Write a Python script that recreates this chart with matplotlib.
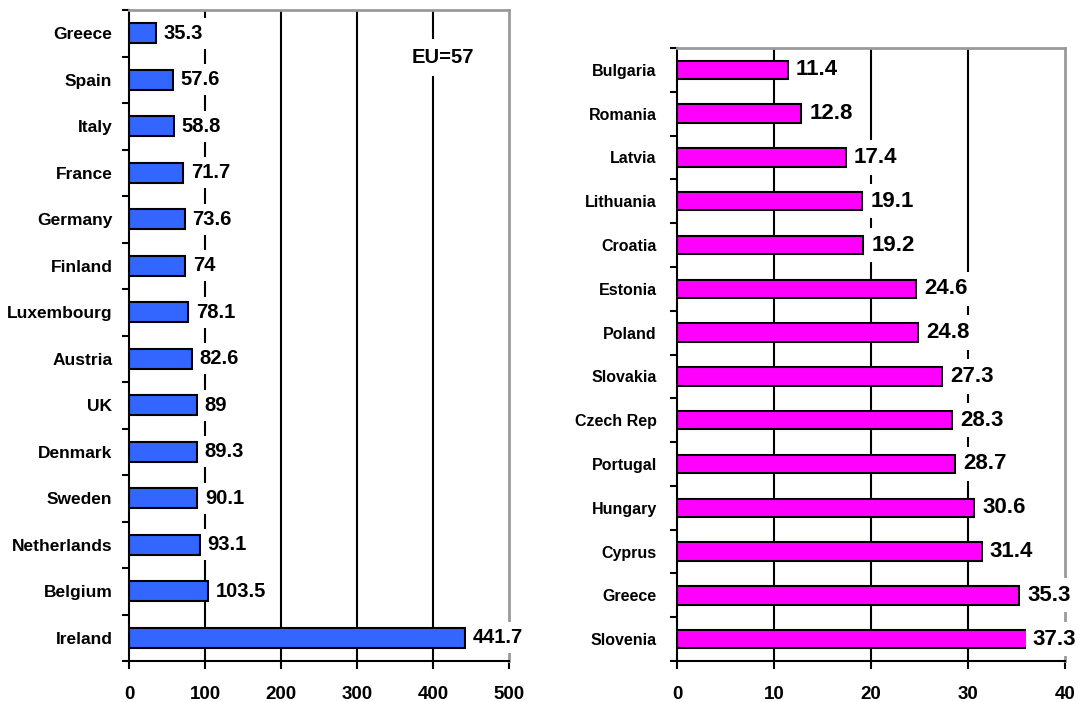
import matplotlib.pyplot as plt
import numpy as np

plt.rcParams['font.family'] = ['Liberation Sans', 'DejaVu Sans']
plt.rcParams['font.weight'] = 'bold'

old_members = ['Greece', 'Spain', 'Italy', 'France', 'Germany', 'Finland',
               'Luxembourg', 'Austria', 'UK', 'Denmark', 'Sweden',
               'Netherlands', 'Belgium', 'Ireland']
old_values = [35.3, 57.6, 58.8, 71.7, 73.6, 74, 78.1, 82.6, 89, 89.3, 90.1,
              93.1, 103.5, 441.7]

new_members = ['Bulgaria', 'Romania', 'Latvia', 'Lithuania', 'Croatia',
               'Estonia', 'Poland', 'Slovakia', 'Czech Rep', 'Portugal',
               'Hungary', 'Cyprus', 'Greece', 'Slovenia']
new_values = [11.4, 12.8, 17.4, 19.1, 19.2, 24.6, 24.8, 27.3, 28.3, 28.7,
              30.6, 31.4, 35.3, 37.3]

eu_label = 'EU=57'


def draw_panel(ax, names, values, color, xmax, step, cat_size, cat_pad,
               val_size, val_off):
    y = np.arange(len(names))
    ax.barh(y, values, height=0.42, color=color, edgecolor='black',
            linewidth=1.5, zorder=2)
    ax.set_xlim(0, xmax)
    ax.set_ylim(len(names) - 0.5, -0.5)
    ax.set_xticks(np.arange(0, xmax + 1, step))
    ax.set_yticks(y)
    ax.set_yticklabels(names, fontsize=cat_size, fontweight='bold')
    ax.set_yticks(np.arange(-0.5, len(names), 1), minor=True)
    ax.tick_params(axis='y', which='major', length=0, pad=cat_pad)
    ax.tick_params(axis='y', which='minor', length=5, width=1.5,
                   direction='out')
    ax.tick_params(axis='x', length=6, width=1.5, direction='out',
                   labelsize=13.5, pad=12)
    for lbl in ax.get_xticklabels():
        lbl.set_fontweight('bold')
    for gx in np.arange(step, xmax, step):
        ax.axvline(gx, color='black', linewidth=1.5, zorder=1)
    for side in ('left', 'bottom'):
        ax.spines[side].set_color('black')
        ax.spines[side].set_linewidth(1.5)
    for side in ('top', 'right'):
        ax.spines[side].set_color('#9a9a9a')
        ax.spines[side].set_linewidth(2)
    labels = []
    for yi, v in zip(y, values):
        t = ax.annotate(f'{v:g}', (v, yi), xytext=(val_off, 0),
                        textcoords='offset points', ha='left', va='center',
                        fontsize=val_size, fontweight='bold', zorder=4,
                        annotation_clip=False,
                        bbox=dict(boxstyle='square,pad=0.3', fc='white',
                                  ec='none'))
        labels.append(t)
    return labels


fig = plt.figure(figsize=(10.8, 7.02), dpi=100)
ax1 = fig.add_axes([129 / 1080, 1 - 661 / 702, 380 / 1080, 651 / 702])
ax2 = fig.add_axes([677 / 1080, 1 - 661 / 702, 388 / 1080, 613 / 702])

draw_panel(ax1, old_members, old_values, '#3366ff', 500, 100, 12.5, 12,
           14.5, 5.5)
right_labels = draw_panel(ax2, new_members, new_values, '#ff00ff', 40, 10,
                          11.5, 14.5, 16, 6)

ax1.text(413, 0.52, eu_label, ha='center', va='center', fontsize=14.5,
         fontweight='bold', zorder=4,
         bbox=dict(boxstyle='square,pad=0.45', fc='white', ec='none'))

# pull any value label back inside the figure if it runs past the edge
fig.canvas.draw()
renderer = fig.canvas.get_renderer()
fig_w = fig.bbox.width
for t in right_labels:
    ext = t.get_window_extent(renderer)
    over = ext.x1 - (fig_w - 4)
    if over > 0:
        x, y = t.get_position()
        t.set_position((x - over * 72 / fig.dpi, y))

fig.savefig('out.png', dpi=100)
